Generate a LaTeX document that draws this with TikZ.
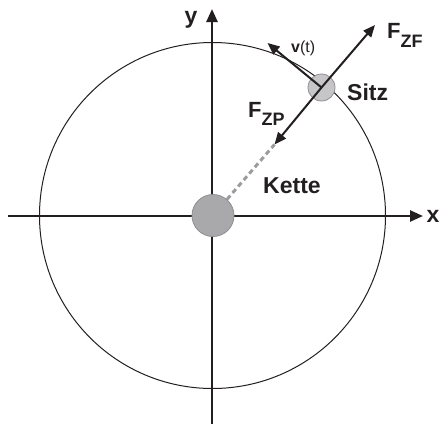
\documentclass[tikz,border=0pt]{standalone}
\usepackage{fontspec}
\setmainfont{Liberation Sans}
\usetikzlibrary{arrows.meta}
\definecolor{axisblack}{HTML}{231F20}
\definecolor{ballgray}{HTML}{A9A9AC}
\definecolor{ballline}{HTML}{8E8E92}
\definecolor{seatgray}{HTML}{C6C6C9}
\definecolor{dashgray}{HTML}{9C9CA0}
\newcommand{\subfont}{\fontsize{18}{18}\selectfont\bfseries}
\tikzset{
  axis/.style={line width=2.5pt, draw=axisblack, -{Triangle[length=13pt,width=11pt]}},
  vec/.style={line width=2pt, draw=axisblack, -{Triangle[length=12pt,width=10pt]}},
  ball/.style={circle, inner sep=0pt, draw=ballline, line width=0.8pt},
  lbl/.style={font=\bfseries, text=axisblack, inner sep=0pt},
}
\begin{document}
\begin{tikzpicture}[x=1pt,y=-1pt]
\useasboundingbox (0,0) rectangle (442,424);
% orbit
\draw[line width=1pt, axisblack] (212.5,215.5) circle[radius=173];
% axes
\coordinate (xl) at (8,216);
\coordinate (xr) at (423,216);
\coordinate (yb) at (212,424);
\coordinate (yt) at (212,9);
\draw[axis] (xl) -- (xr);
\draw[axis] (yb) -- (yt);
\node[lbl, font=\fontsize{23}{23}\selectfont\bfseries] (xlab) at (433,216) {x};
\node[lbl, font=\fontsize{23}{23}\selectfont\bfseries] (ylab) at (191,20) {y};
% centre
\node[ball, fill=ballgray, minimum size=42pt] (M) at (213,215.5) {};
% seat
\coordinate (tipin) at (274.5,144.5);
\draw[line width=3pt, dashgray, dash pattern=on 5pt off 3.5pt] (M) -- (tipin);
\node[ball, fill=seatgray, minimum size=27pt] (S) at (321.5,87.5) {};
\coordinate (tipout) at (375,25);
\coordinate (tipv) at (267.5,43);
\draw[vec] (S.center) -- (tipout);
\draw[vec] (S.center) -- (tipin);
\draw[vec] (S.center) -- (tipv);
% labels
\node[lbl, anchor=base west, font=\fontsize{22}{22}\selectfont\bfseries] (fzf) at (387,38) {F\raisebox{-9pt}{\subfont ZF}};
\node[lbl, anchor=base west, font=\fontsize{22}{22}\selectfont\bfseries] (fzp) at (248,117) {F\raisebox{-8pt}{\subfont ZP}};
\node[lbl, anchor=base west, font=\fontsize{16}{16}\selectfont] (vt) at (291,52) {\textbf{v}(t)};
\node[lbl, anchor=base west, font=\fontsize{23}{23}\selectfont\bfseries] (sitz) at (347,100) {Sitz};
\node[lbl, anchor=base west, font=\fontsize{23}{23}\selectfont\bfseries] (kette) at (263,193) {Kette};
\end{tikzpicture}
\end{document}
